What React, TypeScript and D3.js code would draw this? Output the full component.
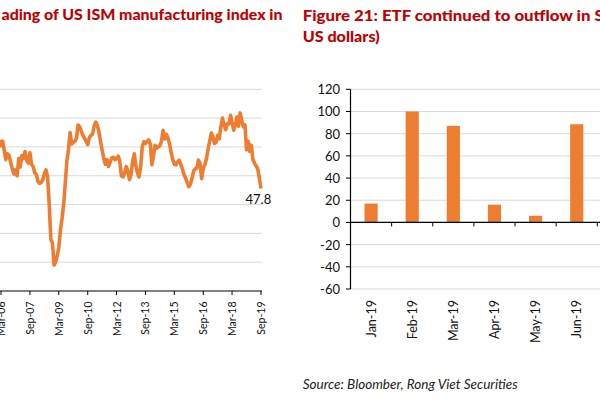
import React from "react";
import * as d3 from "d3";

// ---------- Left chart: US ISM manufacturing index (monthly, from Jan-2006) ----------
const ismStart = "Jan-06";
const ismValues: number[] = [
  // 2006
  54.8, 56.0, 55.2, 56.0, 54.4, 52.8, 53.8, 53.5, 52.3, 51.2, 50.3, 51.0,
  // 2007
  50.0, 53.0, 51.5, 53.5, 53.0, 54.2, 52.6, 52.2, 54.0, 52.0, 51.6, 50.5,
  // 2008
  50.2, 49.0, 48.7, 48.8, 49.3, 50.4, 51.0, 49.8, 45.0, 39.0, 38.3, 34.5,
  // 2009
  35.0, 36.2, 37.5, 40.5, 42.5, 45.0, 48.5, 52.5, 54.5, 57.5, 55.5, 55.8,
  // 2010
  56.0, 56.5, 58.8, 58.5, 57.8, 57.0, 56.5, 56.0, 55.4, 56.6, 57.0, 57.2,
  // 2011
  58.6, 59.3, 58.8, 57.6, 56.0, 54.5, 53.0, 52.0, 52.8, 51.6, 52.4, 53.1,
  // 2012
  53.2, 52.8, 53.0, 53.4, 52.5, 50.0, 49.8, 50.5, 51.6, 50.8, 49.3, 50.2,
  // 2013
  52.5, 53.8, 51.8, 50.5, 49.8, 51.5, 55.0, 55.9, 55.6, 56.0, 56.2, 55.5,
  // 2014
  51.9, 53.5, 55.3, 54.8, 55.0, 55.2, 56.0, 57.9, 56.4, 57.2, 56.5, 55.6,
  // 2015
  54.0, 52.8, 52.0, 51.9, 52.4, 52.7, 52.0, 51.2, 50.2, 49.6, 48.8, 48.1,
  // 2016
  48.5, 49.6, 50.8, 51.2, 51.3, 52.7, 52.2, 49.5, 51.3, 51.9, 53.0, 54.6,
  // 2017
  56.0, 57.4, 56.8, 55.6, 55.8, 57.0, 56.4, 58.5, 60.0, 58.8, 58.0, 59.0,
  // 2018
  59.0, 60.5, 59.2, 57.9, 58.8, 60.2, 58.6, 60.9, 59.6, 58.5, 58.8, 54.5,
  // 2019
  56.0, 54.2, 55.3, 52.8, 52.2, 51.7, 51.2, 49.6, 47.8,
];
const ismTickLabels = [
  "Mar-06", "Sep-07", "Mar-09", "Sep-10", "Mar-12",
  "Sep-13", "Mar-15", "Sep-16", "Mar-18", "Sep-19",
];
const ismGridValues = [35, 40, 45, 50, 55, 60, 65];
const ismLastLabel = "47.8";
const leftTitle = "ading of US ISM manufacturing index in";

// ---------- Right chart: ETF flows ----------
const etfMonths = ["Jan-19", "Feb-19", "Mar-19", "Apr-19", "May-19", "Jun-19"];
const etfValues = [17, 100, 87, 16, 6, 88.5];
const etfTicks = [120, 100, 80, 60, 40, 20, 0, -20, -40, -60];
const rightTitle1 = "Figure 21: ETF continued to outflow in S";
const rightTitle2 = "US dollars)";
const sourceText = "Source: Bloomber, Rong Viet Securities";

const ORANGE = "#ED7D31";
const RED = "#C00000";
const GRID = "#D9D9D9";
const FONT = "Lato, 'Open Sans', sans-serif";

export default function App() {
  const parse = d3.timeParse("%b-%y");

  // left scales
  const xL = d3
    .scaleTime()
    .domain([parse(ismTickLabels[0])!, parse(ismTickLabels[ismTickLabels.length - 1])!])
    .range([1, 261]);
  const yL = d3.scaleLinear().domain([30, 65]).range([291, 89.3]);
  const start = parse(ismStart)!;
  const line = d3
    .line<number>()
    .x((_, i) => xL(d3.timeMonth.offset(start, i)))
    .y((d) => yL(d))
    .curve(d3.curveLinear);
  const lastX = xL(d3.timeMonth.offset(start, ismValues.length - 1));

  // right scales
  const xR = d3.scaleBand<string>().domain(etfMonths).range([350.5, 597.3]).padding(0);
  const yR = d3.scaleLinear().domain([-60, 120]).range([289, 89.3]);
  const barW = xR.bandwidth() * 0.32;

  return (
    <svg
      width={600}
      height={400}
      style={{ position: "fixed", left: 0, top: 0, background: "#fff" }}
      fontFamily={FONT}
    >
      <rect width={600} height={400} fill="#fff" />

      {/* Titles */}
      <text x={1.5} y={20} fill={RED} fontWeight={900} fontSize={15} textLength={281} lengthAdjust="spacingAndGlyphs">
        {leftTitle}
      </text>
      <text x={302.7} y={20.5} fill={RED} fontWeight={900} fontSize={15} textLength={301} lengthAdjust="spacingAndGlyphs">
        {rightTitle1}
      </text>
      <text x={302.7} y={42} fill={RED} fontWeight={900} fontSize={15} textLength={77} lengthAdjust="spacingAndGlyphs">
        {rightTitle2}
      </text>

      {/* ---------- Left chart ---------- */}
      {ismGridValues.map((v) => (
        <line key={v} x1={0} x2={262} y1={yL(v)} y2={yL(v)} stroke={GRID} strokeWidth={1} />
      ))}
      <line x1={0} x2={262} y1={291} y2={291} stroke="#000" strokeWidth={1.2} />
      {ismTickLabels.map((t) => {
        const x = xL(parse(t)!);
        return (
          <g key={t}>
            <line x1={x} x2={x} y1={291} y2={295} stroke="#000" strokeWidth={1} />
            <text
              transform={`translate(${x},${301.5}) rotate(-90)`}
              textAnchor="end"
              dominantBaseline="central"
              fontSize={10.5}
              fill="#111"
            >
              {t}
            </text>
          </g>
        );
      })}
      <path d={line(ismValues) ?? ""} fill="none" stroke={ORANGE} strokeWidth={3.6} strokeLinejoin="round" />
      <text x={lastX - 15.5} y={204} fontSize={13} fill="#111">
        {ismLastLabel}
      </text>

      {/* ---------- Right chart ---------- */}
      {etfTicks.map((v) => (
        <g key={v}>
          <line x1={350.5} x2={600} y1={yR(v)} y2={yR(v)} stroke={GRID} strokeWidth={1} />
          <line x1={346} x2={350.5} y1={yR(v)} y2={yR(v)} stroke="#000" strokeWidth={1} />
          <text x={340} y={yR(v)} textAnchor="end" dominantBaseline="central" fontSize={13} fill="#111">
            {v}
          </text>
        </g>
      ))}
      {etfValues.map((v, i) => {
        const c = xR(etfMonths[i])! + xR.bandwidth() / 2;
        return (
          <rect
            key={etfMonths[i]}
            x={c - barW / 2}
            width={barW}
            y={yR(Math.max(0, v))}
            height={Math.abs(yR(v) - yR(0))}
            fill={ORANGE}
          />
        );
      })}
      <line x1={350.5} x2={350.5} y1={yR(120)} y2={yR(-60)} stroke="#000" strokeWidth={1.2} />
      <line x1={350.5} x2={600} y1={yR(0)} y2={yR(0)} stroke="#000" strokeWidth={1.2} />
      {etfMonths.map((m) => {
        const b = xR(m)! + xR.bandwidth();
        const c = xR(m)! + xR.bandwidth() / 2;
        return (
          <g key={m}>
            <line x1={b} x2={b} y1={yR(0)} y2={yR(0) + 4} stroke="#000" strokeWidth={1} />
            <text
              transform={`translate(${c},${300}) rotate(-90)`}
              textAnchor="end"
              dominantBaseline="central"
              fontSize={12.5}
              fill="#111"
            >
              {m}
            </text>
          </g>
        );
      })}

      <text x={302.7} y={389} fontSize={13} fontStyle="italic" fill="#222" textLength={215} lengthAdjust="spacingAndGlyphs">
        {sourceText}
      </text>
    </svg>
  );
}
